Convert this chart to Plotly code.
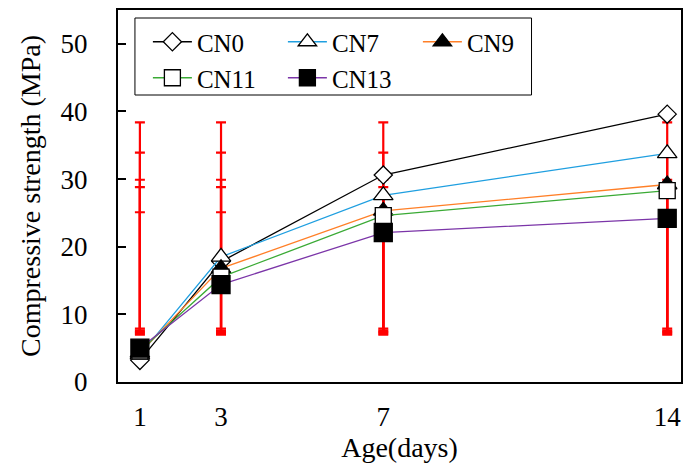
import plotly.graph_objects as go

days = [1, 3, 7, 14]
series_names = ["CN0", "CN7", "CN9", "CN11", "CN13"]
cn0 = [3.2, 17.8, 30.6, 39.6]
cn7 = [4.0, 18.5, 27.6, 33.8]
cn9 = [4.3, 16.8, 25.3, 29.2]
cn11 = [4.6, 15.5, 24.6, 28.3]
cn13 = [5.0, 14.4, 22.1, 24.2]
# error-bar limits (same at every age)
err_hi = [38.4, 33.9, 29.9, 28.8, 25.1]
err_lo = [7.9, 7.6, 7.4, 7.2, 7.0]

values = [cn0, cn7, cn9, cn11, cn13]
colors = ["#000000", "#1f9fe0", "#ff7f27", "#3aaa35", "#7b35a8"]
symbols = ["diamond", "triangle-up", "triangle-up", "square", "square"]
fills = ["#ffffff", "#ffffff", "#000000", "#ffffff", "#000000"]
sizes = [14, 17, 17, 16, 18]
legend_ids = ["legend", "legend", "legend", "legend2", "legend2"]

fig = go.Figure()

for hi, lo in zip(err_hi, err_lo):
    mid = (hi + lo) / 2
    half = (hi - lo) / 2
    fig.add_trace(go.Scatter(
        x=days, y=[mid] * len(days), mode="markers",
        marker=dict(size=1, color="rgba(0,0,0,0)"),
        error_y=dict(type="constant", value=half, color="#ff0000", thickness=2.2, width=5),
        showlegend=False, hoverinfo="skip"))

for name, vals, c, s, f, sz, lg in zip(series_names, values, colors, symbols, fills, sizes, legend_ids):
    fig.add_trace(go.Scatter(
        x=days, y=vals, name=name, mode="lines+markers",
        line=dict(color=c, width=1.3),
        marker=dict(symbol=s, size=sz, color=f, line=dict(color="#000000", width=1.3)),
        legend=lg,
    ))

PLOT_L, PLOT_W, PLOT_B, PLOT_H = 118, 565, 382, 372


def px_x(p):
    return (p - PLOT_L) / PLOT_W


def px_y(p):
    return (PLOT_B - p) / PLOT_H


legend_common = dict(
    orientation="h", xanchor="left", yanchor="middle",
    bgcolor="rgba(0,0,0,0)", borderwidth=0,
    font=dict(family="Liberation Serif", size=25, color="black"),
    entrywidth=81, entrywidthmode="pixels", itemwidth=39, traceorder="normal",
)

fig.update_layout(
    width=686, height=470,
    margin=dict(l=PLOT_L, r=686 - PLOT_L - PLOT_W, t=PLOT_B - PLOT_H, b=470 - PLOT_B),
    paper_bgcolor="white", plot_bgcolor="white",
    font=dict(family="Liberation Serif", size=25, color="black"),
    showlegend=True,
    legend=dict(x=px_x(148), y=px_y(42), **legend_common),
    legend2=dict(x=px_x(148), y=px_y(78), **legend_common),
    shapes=[dict(type="rect", xref="paper", yref="paper",
                 x0=px_x(135), x1=px_x(533), y0=px_y(95), y1=px_y(18),
                 line=dict(color="black", width=1), fillcolor="rgba(0,0,0,0)")],
    xaxis=dict(
        range=[0.46, 14.34], tickvals=days, ticktext=[str(d) for d in days],
        showgrid=False, zeroline=False, ticks="",
        showline=True, linecolor="black", linewidth=2, mirror=True,
        title=dict(text="Age(days)", font=dict(family="Liberation Serif", size=28), standoff=4),
        tickfont=dict(family="Liberation Serif", size=27), ticklabelstandoff=10,
    ),
    yaxis=dict(
        range=[0, 55], tickvals=[0, 10, 20, 30, 40, 50],
        showgrid=False, zeroline=False, ticks="inside", ticklen=8, tickwidth=1.5,
        tickcolor="black",
        showline=True, linecolor="black", linewidth=2, mirror=True,
        title=dict(text="Compressive strength (MPa)", font=dict(family="Liberation Serif", size=28), standoff=12),
        tickfont=dict(family="Liberation Serif", size=27), ticklabelstandoff=23,
    ),
)

fig.write_html("out.html")
